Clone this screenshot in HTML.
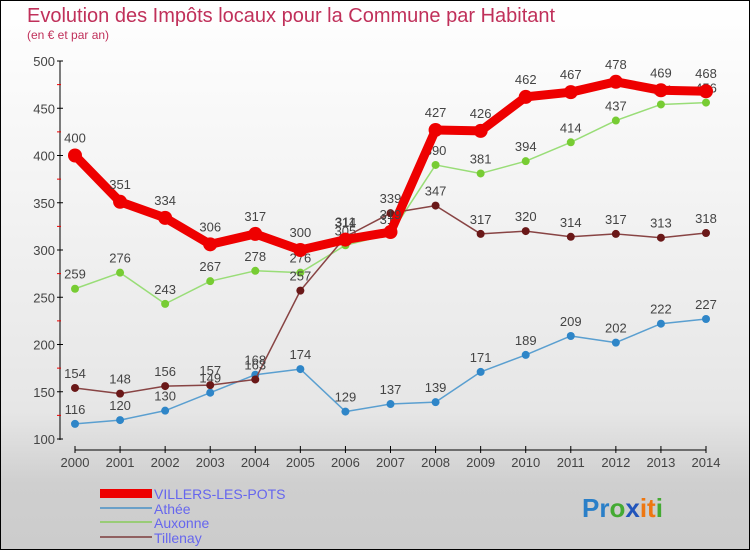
<!DOCTYPE html>
<html><head><meta charset="utf-8"><style>
html,body{margin:0;padding:0}
body{width:750px;height:550px;overflow:hidden;font-family:"Liberation Sans",sans-serif}
#c{position:absolute;left:0;top:0;width:748px;height:548px;border:1px solid #000;background:linear-gradient(#ffffff,#e6e6e6 75%,#cfcfcf 88%,#cccccc)}
</style></head><body>
<div id="c">
<svg id="s" width="750" height="550" style="position:absolute;left:-1px;top:-1px">
<text x="27" y="22" font-size="20" fill="#c0305a">Evolution des Impôts locaux pour la Commune par Habitant</text>
<text x="27" y="39" font-size="12" fill="#c0305a">(en € et par an)</text>
<g id="axes"></g><g id="series"></g>
<g>
<rect x="100" y="489" width="52" height="9" fill="#ee0000"/>
<text x="154" y="499" font-size="14" fill="#6666ee">VILLERS-LES-POTS</text>
<rect x="100" y="507" width="52" height="2" fill="#6aa0c8"/>
<text x="154" y="514" font-size="14" fill="#6666ee">Athée</text>
<rect x="100" y="521" width="52" height="2" fill="#99cc77"/>
<text x="154" y="528" font-size="14" fill="#6666ee">Auxonne</text>
<rect x="100" y="536" width="52" height="2" fill="#906060"/>
<text x="154" y="543" font-size="14" fill="#6666ee">Tillenay</text>
</g>
<text x="582" y="517" font-size="26" font-weight="bold"><tspan fill="#2a7fc8">Pr</tspan><tspan fill="#44aa33">o</tspan><tspan fill="#2255bb">x</tspan><tspan fill="#ee7711">it</tspan><tspan fill="#44aa33">i</tspan></text>
</svg></div>
<script>
const years=[2000,2001,2002,2003,2004,2005,2006,2007,2008,2009,2010,2011,2012,2013,2014];
const villers=[400,351,334,306,317,300,311,319,427,426,462,467,478,469,468];
const athee=[116,120,130,149,168,174,129,137,139,171,189,209,202,222,227];
const auxonne=[259,276,243,267,278,276,305,317,390,381,394,414,437,454,456];
const tillenay=[154,148,156,157,163,257,314,339,347,317,320,314,317,313,318];
const yTicks=[100,150,200,250,300,350,400,450,500];
const NS="http://www.w3.org/2000/svg";
function X(i){return 75+i*(706-75)/14;}
function Y(v){return 439-(v-100)*(439-61)/400;}
function mk(p,t,a){const e=document.createElementNS(NS,t);for(const k in a)e.setAttribute(k,a[k]);p.appendChild(e);return e;}
const ax=document.getElementById('axes');
const yl=mk(ax,'line',{x1:60,y1:61,x2:60,y2:440,stroke:'#000','stroke-width':1});


yTicks.forEach(v=>{
 mk(ax,'line',{x1:57,y1:Y(v),x2:63,y2:Y(v),stroke:'#000'});
 if(v<500)mk(ax,'line',{x1:57,y1:Y(v+25),x2:61,y2:Y(v+25),stroke:'#ee0000'});
 const t=mk(ax,'text',{x:55,y:Y(v)+5,'font-size':13,fill:'#444','text-anchor':'end'});
 t.textContent=v;
 
 
});
const xl=mk(ax,'line',{x1:X(0),y1:450,x2:X(14),y2:450,stroke:'#000'});


years.forEach((y,i)=>{
 mk(ax,'line',{x1:X(i),y1:446,x2:X(i),y2:453,stroke:'#000'});
 const t=mk(ax,'text',{x:X(i),y:467,'font-size':13,fill:'#444','text-anchor':'middle'});
 t.textContent=y;
 
 
});
const sg=document.getElementById('series');
function draw(vals,name,color,dot,w,r){
 const g=mk(sg,'g',{});
 
 
 mk(g,'polyline',{points:vals.map((v,i)=>X(i)+','+Y(v)).join(' '),fill:'none',stroke:color,'stroke-width':w,'stroke-linejoin':'round'});
 vals.forEach((v,i)=>{
  const c=mk(g,'circle',{cx:X(i),cy:Y(v),r:r,fill:dot});
  
  
  const t=mk(g,'text',{x:X(i),y:Y(v)-(r+6),'font-size':13,fill:'#444','text-anchor':'middle'});
  t.textContent=v;
  
  
 });
}
draw(athee,'athee','#5a9fd0','#2f86c8',1.5,4);
draw(auxonne,'auxonne','#99dd77','#77cc33',1.5,4);
draw(tillenay,'tillenay','#884444','#6a1818',1.5,4);
draw(villers,'villers','#ee0000','#ee0000',9,7);
</script>
</body></html>
